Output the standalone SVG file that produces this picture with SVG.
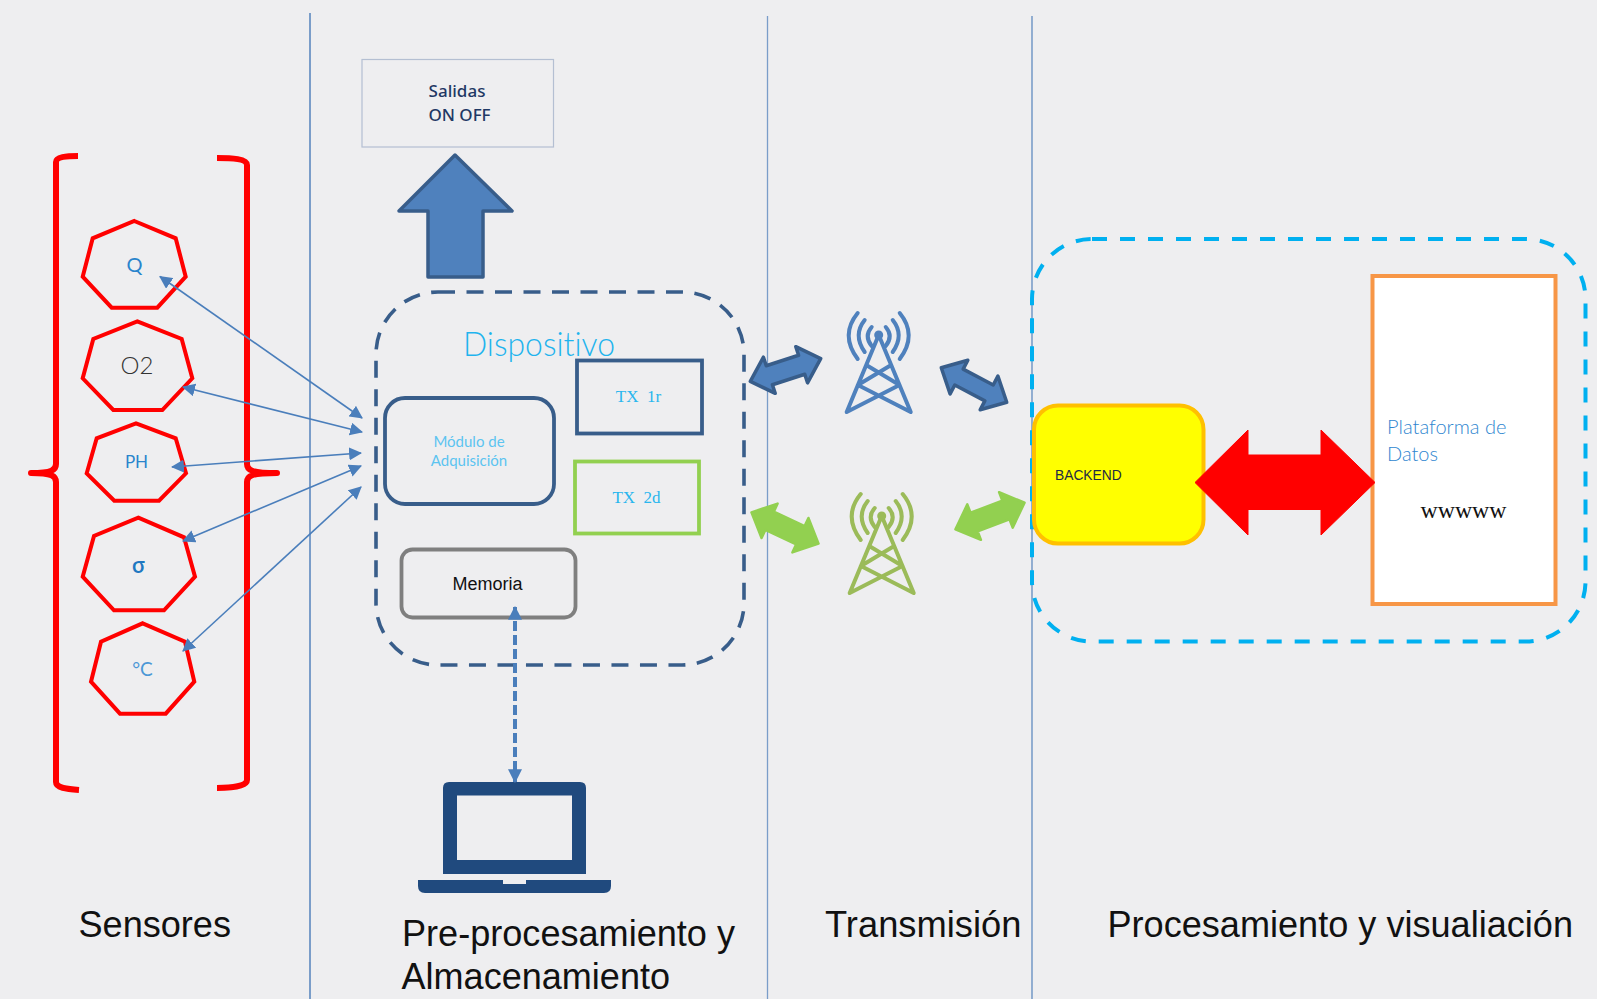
<svg xmlns="http://www.w3.org/2000/svg" width="1597" height="999" viewBox="0 0 1597 999">
<style>
text{font-family:"Liberation Sans",Arial,sans-serif;font-variant-ligatures:none}
.lane{stroke:#7a9dc9;fill:none}
.br{fill:none;stroke:#f00;stroke-width:6;stroke-linejoin:round}
.hept{fill:none;stroke:#f00;stroke-width:4}
.lt{font-family:Lato,"Open Sans",sans-serif;font-weight:300}
.sens{fill:#2a84cc;font-size:20px;text-anchor:middle;font-family:Lato,"Open Sans",sans-serif}
.conn{stroke:#4a7ebb;stroke-width:1.6;fill:none;marker-start:url(#ah);marker-end:url(#ah)}
.blue{fill:#4f81bd;stroke:#385d8a;stroke-width:3.5;stroke-linejoin:round}
.green{fill:#92d050;stroke:#92d050;stroke-width:2.5;stroke-linejoin:round}
.tx{font-family:"Liberation Serif",serif;font-size:17px;fill:#29b6ee;text-anchor:middle;white-space:pre}
.lab{font-size:36px;fill:#111}
.tw{fill:none;stroke-width:4;stroke-linecap:round;stroke-linejoin:round}
</style>
<defs>
<marker id="ah" viewBox="0 0 12 12" refX="11" refY="6" markerWidth="13" markerHeight="13" markerUnits="userSpaceOnUse" orient="auto-start-reverse"><path d="M0 0L12 6L0 12Z" fill="#4a7ebb"/></marker>
<marker id="ah2" viewBox="0 0 12 12" refX="11" refY="6" markerWidth="14" markerHeight="14" markerUnits="userSpaceOnUse" orient="auto-start-reverse"><path d="M0 0L12 6L0 12Z" fill="#4a7ebb"/></marker>
<g id="tower">
<path d="M0 0L-32 77M0 0L32 77M-12.5 30L20.8 50M12.5 30L-20.8 50M-20.8 50L32 77M20.8 50L-32 77"/>
<path d="M-7-8Q-15 1-7 11M-14-15Q-26 0-14 17M-21-22Q-39 0-21 24M7-8Q15 1 7 11M14-15Q26 0 14 17M21-22Q39 0 21 24"/>
</g>
</defs>
<rect width="1597" height="999" fill="#eeeef0"/>

<g id="lanes">
<path class="lane" stroke-width="2" d="M310 13V999"/>
<path class="lane" stroke-width="1.3" d="M767.500 16V999"/>
<path class="lane" stroke-width="1.600" d="M1032 16V999"/>
</g>

<g id="sensor-braces">
<path class="br" d="M78 156C66 156 56 157 56 162V464C56 470 52 473 31 473C52 473 56 476 56 482V782C56 788 66 789 79 790"/>
<path class="br" d="M217 158C232 158 247 159 247 165V464C247 470 251 473 277 473C251 473 247 476 247 482V780C247 786 232 788 217 788"/>
</g>

<g id="sensor-q"><polygon class="hept" points="134.3,221 175.7,238.3 185.7,276.7 157.3,307.7 111.7,307.7 82.7,276.7 92.7,238.3"/><text class="sens" x="134.500" y="272">Q</text></g>
<g id="sensor-o2"><polygon class="hept" points="137.3,321.3 181.7,339 192.3,378.3 162.3,410 113.3,410 82.7,378.3 93.3,339"/><text x="137" y="374" font-size="24" text-anchor="middle" fill="#333" style="font-family:Lato,sans-serif;font-weight:300">O2</text></g>
<g id="sensor-ph"><polygon class="hept" points="136,423.3 175.7,438.3 186,473.3 159,500.7 114.3,500.7 86.7,473.3 96.7,438.3"/><text class="sens" x="136.500" y="468" style="font-size:17px">PH</text></g>
<g id="sensor-sigma"><polygon class="hept" points="138.3,517.7 184,537.3 195,576.7 164,610.3 114,610.3 82.7,576.7 94,536"/><text x="138.500" y="573" font-size="21" font-weight="600" text-anchor="middle" fill="#1f78c1" style="font-family:'Open Sans',sans-serif">σ</text></g>
<g id="sensor-temp"><polygon class="hept" points="142.7,623.3 185,641.7 194.3,681.7 165.7,713.7 120,713.7 91,681.7 101,641.7"/><text class="sens" x="142.500" y="676" style="fill:#4b97d6;font-weight:400;font-size:19px">°C</text></g>

<g id="outputs"><rect x="362" y="59.500" width="191.500" height="87.500" fill="none" stroke="#b4bfd2" stroke-width="1.200"/>
<text x="457" y="97" font-size="17" font-weight="500" text-anchor="middle" fill="#1f3864" style="font-family:'Noto Sans',sans-serif">Salidas</text>
<text x="459.500" y="121" font-size="17" font-weight="500" text-anchor="middle" fill="#1f3864" style="font-family:'Noto Sans',sans-serif">ON OFF</text></g>

<g id="device">
<rect x="376" y="292" width="368" height="373" rx="62" fill="none" stroke="#385d8a" stroke-width="3.600" stroke-dasharray="17 11.500"/>
<text class="lt" x="463" y="356" font-size="34" fill="#1fb4ee" textLength="152" lengthAdjust="spacingAndGlyphs">Dispositivo</text>
</g>
<g id="adquisicion"><rect x="385" y="398" width="169" height="106" rx="20" fill="none" stroke="#385d8a" stroke-width="3.800"/>
<text x="469" y="447" font-size="15" fill="#5cc4f0" text-anchor="middle" style="font-family:Lato,sans-serif">Módulo de</text>
<text x="469" y="466" font-size="15" fill="#5cc4f0" text-anchor="middle" style="font-family:Lato,sans-serif">Adquisición</text></g>
<g id="tx1"><rect x="577" y="360.500" width="125" height="73" fill="none" stroke="#385d8a" stroke-width="3.800"/><text class="tx" x="638.500" y="402">TX  1r</text></g>
<g id="tx2"><rect x="575" y="461.500" width="124" height="72" fill="none" stroke="#92d050" stroke-width="3.800"/><text class="tx" x="636.500" y="503">TX  2d</text></g>
<g id="memoria"><rect x="401.500" y="549.500" width="174" height="68" rx="11" fill="none" stroke="#7f7f7f" stroke-width="3.800"/><text x="487.500" y="589.500" font-size="18" text-anchor="middle" fill="#111">Memoria</text></g>

<g id="laptop" fill="#204a7e">
<path fill-rule="evenodd" d="M449 782H580Q586 782 586 788V874H443V788Q443 782 449 782ZM457 795.500V860H572V795.500Z"/>
<path d="M418 880H503V884H526V880H611V886Q611 893 604 893H425Q418 893 418 886Z"/>
</g>

<g id="tower-blue" stroke="#4f81bd"><use href="#tower" class="tw" x="878.700" y="335"/><circle cx="878.700" cy="335" r="4.500" fill="#4f81bd" stroke="none"/></g>
<g id="tower-green" stroke="#9bbb59"><use href="#tower" class="tw" x="881.700" y="516"/><circle cx="881.700" cy="516" r="4.500" fill="#9bbb59" stroke="none"/></g>

<g id="platform">
<rect x="1032" y="239" width="553.500" height="402.500" rx="60" fill="none" stroke="#00b0f0" stroke-width="4" stroke-dasharray="15 13"/>
</g>
<g id="backend"><rect x="1034" y="405.500" width="169.500" height="138" rx="24" fill="#ff0" stroke="#ffc000" stroke-width="4"/><text x="1055" y="479.500" font-size="13.800" fill="#222a44">BACKEND</text></g>
<g id="datos"><rect x="1372.500" y="276" width="183" height="328" fill="#fff" stroke="#f79646" stroke-width="4"/>
<text class="lt" x="1387" y="434" font-size="20" fill="#2f86d0" textLength="119.500" lengthAdjust="spacingAndGlyphs">Plataforma de</text>
<text class="lt" x="1387" y="461" font-size="20" fill="#2f86d0">Datos</text>
<text x="1420.500" y="518" font-size="24" fill="#111" textLength="86" lengthAdjust="spacingAndGlyphs" style="font-family:'Liberation Serif',serif">wwwww</text></g>

<g id="connectors">
<path class="conn" d="M160 276.500L362 418"/>
<path class="conn" d="M183 387L362 432"/>
<path class="conn" d="M172 467L361 453"/>
<path class="conn" d="M183 541L361 466"/>
<path class="conn" d="M183 651L361 487"/>
<path d="M515 607V782" fill="none" stroke="#4a7ebb" stroke-width="4" stroke-dasharray="10 4" marker-start="url(#ah2)" marker-end="url(#ah2)"/>
<polygon class="blue" points="455,155 512,211 483,211 483,277 428,277 428,211 399,211"/>
<polygon class="blue" transform="translate(785.500 370) rotate(-18)" points="-37,0 -17,-19 -17,-10 17,-10 17,-19 37,0 17,19 17,10 -17,10 -17,19"/>
<polygon class="blue" transform="translate(974 385) rotate(27.800)" points="-37,0 -17,-19 -17,-9 17,-9 17,-19 37,0 17,19 17,9 -17,9 -17,19"/>
<polygon class="green" transform="translate(785 528) rotate(25)" points="-37,0 -17,-19 -17,-10 17,-10 17,-19 37,0 17,19 17,10 -17,10 -17,19"/>
<polygon class="green" transform="translate(990 516) rotate(-21)" points="-37,0 -17,-19 -17,-10 17,-10 17,-19 37,0 17,19 17,10 -17,10 -17,19"/>
<polygon fill="#f00" stroke="#f00" stroke-width="1" stroke-linejoin="round" points="1195,482.500 1248,430 1248,455 1321,455 1321,430 1375,482.500 1321,535 1321,509.500 1248,509.500 1248,535"/>
</g>

<g id="labels">
<text class="lab" x="78.500" y="937" textLength="152.500" lengthAdjust="spacingAndGlyphs">Sensores</text>
<text class="lab" x="402" y="946" textLength="333" lengthAdjust="spacingAndGlyphs">Pre-procesamiento y</text>
<text class="lab" x="401.500" y="989" textLength="268.500" lengthAdjust="spacingAndGlyphs">Almacenamiento</text>
<text class="lab" x="825" y="937" textLength="196.500" lengthAdjust="spacingAndGlyphs">Transmisión</text>
<text class="lab" x="1107.500" y="937" textLength="465.500" lengthAdjust="spacingAndGlyphs">Procesamiento y visualiación</text>
</g>
</svg>
